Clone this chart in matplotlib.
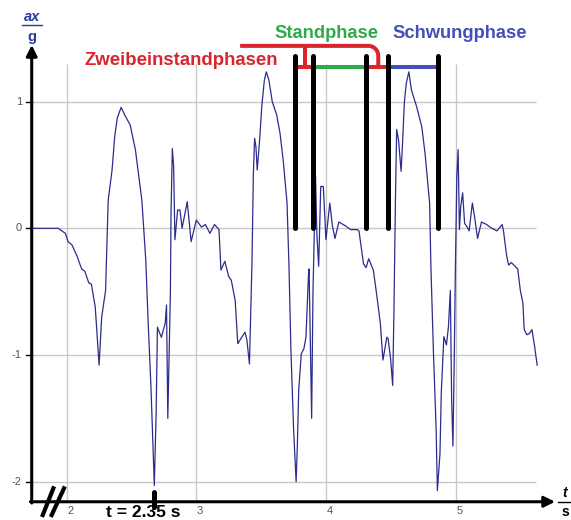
import numpy as np
from matplotlib import pyplot as plt

# acceleration signal ax/g over time t (s)
t_vals = [1.72, 1.935, 1.99, 2.01, 2.04, 2.08, 2.115, 2.14, 2.17, 2.19,
          2.22, 2.25, 2.27, 2.30, 2.32, 2.35, 2.37, 2.39, 2.42, 2.45,
          2.49, 2.53, 2.58, 2.61, 2.63, 2.65, 2.676, 2.69, 2.70, 2.73,
          2.76, 2.77, 2.78, 2.80, 2.805, 2.815, 2.825, 2.835, 2.856, 2.874,
          2.89, 2.93, 2.96, 3.0, 3.04, 3.07, 3.105, 3.14, 3.175, 3.19,
          3.22, 3.25, 3.27, 3.30, 3.32, 3.35, 3.376, 3.39, 3.41, 3.43,
          3.44, 3.45, 3.46, 3.47, 3.49, 3.505, 3.525, 3.54, 3.56, 3.586,
          3.62, 3.646, 3.67, 3.70, 3.715, 3.73, 3.75, 3.77, 3.78, 3.79,
          3.81, 3.83, 3.846, 3.865, 3.87, 3.885, 3.89, 3.90, 3.91, 3.92,
          3.93, 3.944, 3.96, 3.98, 4.0, 4.03, 4.05, 4.07, 4.10, 4.15,
          4.19, 4.24, 4.255, 4.29, 4.31, 4.33, 4.366, 4.39, 4.42, 4.44,
          4.47, 4.48, 4.50, 4.515, 4.525, 4.536, 4.546, 4.56, 4.58, 4.59,
          4.605, 4.62, 4.64, 4.66, 4.70, 4.74, 4.765, 4.80, 4.81, 4.83,
          4.85, 4.86, 4.88, 4.89, 4.91, 4.93, 4.945, 4.96, 4.97, 4.98,
          4.99, 5.0, 5.01, 5.02, 5.03, 5.04, 5.055, 5.07, 5.09, 5.105,
          5.13, 5.15, 5.17, 5.20, 5.24, 5.28, 5.32, 5.36, 5.37, 5.395,
          5.41, 5.43, 5.46, 5.48, 5.50, 5.52, 5.53, 5.55, 5.57, 5.59,
          5.61, 5.63]
ax_vals = [0, 0, -0.04, -0.105, -0.13, -0.22, -0.32, -0.34, -0.43, -0.44,
           -0.62, -1.08, -0.70, -0.49, 0.22, 0.46, 0.72, 0.87, 0.955, 0.89,
           0.815, 0.62, 0.22, -0.25, -0.78, -1.25, -2.03, -1.46, -0.78, -0.86,
           -0.75, -0.605, -1.50, -0.51, 0.12, 0.63, 0.49, -0.09, 0.145, 0.145,
           0.0, 0.21, -0.105, 0.065, 0.01, 0.03, -0.04, 0.03, -0.01, -0.33,
           -0.26, -0.38, -0.41, -0.57, -0.91, -0.86, -0.82, -0.88, -1.07, -0.25,
           0.43, 0.71, 0.645, 0.46, 0.72, 0.96, 1.17, 1.235, 1.17, 1.0,
           0.895, 0.75, 0.54, 0.20, -0.30, -0.96, -1.57, -2.0, -1.70, -1.28,
           -0.99, -0.95, -0.86, -0.38, -0.32, -1.17, -1.50, -0.51, -0.04, 0.41,
           -0.04, -0.30, 0.33, 0.33, -0.09, 0.20, 0.02, -0.08, 0.05, 0.02,
           -0.01, -0.01, -0.02, -0.28, -0.31, -0.24, -0.33, -0.51, -0.75, -1.04,
           -0.86, -0.87, -1.04, -1.24, -0.65, 0.2, 0.78, 0.70, 0.45, 0.645,
           0.99, 1.145, 1.235, 1.09, 0.96, 0.80, 0.59, 0.20, -0.30, -0.99,
           -1.57, -2.07, -1.78, -1.30, -0.855, -0.92, -0.78, -0.49, -1.355, -1.72,
           -1.04, -0.25, 0.41, 0.62, -0.01, 0.17, 0.28, 0.04, 0.01, -0.02,
           0.20, 0.07, -0.08, 0.05, 0.03, 0.0, -0.02, 0.03, -0.02, -0.22,
           -0.29, -0.27, -0.30, -0.32, -0.49, -0.59, -0.80, -0.84, -0.83, -0.80,
           -0.93, -1.08]

x_ticks = [2, 3, 4, 5]
y_ticks = [1, 0, -1, -2]

# gait phase borders (s)
phase_marks = [3.762, 3.898, 4.307, 4.477, 4.867]
marker_t = 2.675
marker_label = 't = 2.35 s'

fnt = 'Liberation Sans'
red = '#d9262e'
green = '#2eaa4a'
blue = '#4450b8'

fig = plt.figure(figsize=(5.71, 5.2), dpi=100)
ax = fig.add_axes([0, 0, 1, 1])
ax.set_xlim(1.4853, 5.891)
ax.set_ylim(-2.302, 1.802)
ax.axis('off')

x0 = 1.73      # y axis position
y0 = -2.158    # x axis position

# grid
ax.hlines(y_ticks, x0, 5.62, color='#c8c8c8', lw=1, zorder=1)
ax.vlines(x_ticks, y0, 1.30, color='#c8c8c8', lw=1, zorder=1)

# the signal
ax.plot(t_vals, ax_vals, color='#2c2c8c', lw=0.9, zorder=3)

# axes with arrows
ax.annotate('', xy=(5.768, y0), xytext=(x0 - 0.01, y0),
            arrowprops=dict(arrowstyle='-|>', lw=2.2, color='black',
                            mutation_scale=16, shrinkA=0, shrinkB=0), zorder=5)
ax.annotate('', xy=(x0, 1.447), xytext=(x0, y0 - 0.01),
            arrowprops=dict(arrowstyle='-|>', lw=2.2, color='black',
                            mutation_scale=16, shrinkA=0, shrinkB=0), zorder=5)

# y ticks
for v in y_ticks:
    ax.plot([1.686, x0], [v, v], color='black', lw=1, zorder=5)
    ax.text(1.655, v, str(v), ha='right', va='center', fontsize=8,
            color='#555555', family=fnt)
for tk in x_ticks:
    ax.text(tk + 0.005, -2.228, str(tk), ha='left', va='center', fontsize=8,
            color='#555555', family=fnt)

# axis break
ax.plot([1.815, 1.897], [-2.263, -2.052], color='black', lw=3, zorder=6)
ax.plot([1.884, 1.979], [-2.263, -2.052], color='black', lw=3, zorder=6)

# time marker
ax.plot([marker_t, marker_t], [-2.08, -2.20], color='black', lw=3.6,
        solid_capstyle='round', zorder=6)
ax.text(2.59, -2.24, marker_label, ha='center', va='center', fontsize=12.5,
        fontweight='bold', family=fnt)

# axis labels
ax.text(x0, 1.668, 'ax', ha='center', va='center', fontsize=10.5, color='#2a3aa0',
        fontweight='bold', style='italic', family=fnt)
ax.plot([1.655, 1.81], [1.605, 1.605], color='#2a3aa0', lw=1)
ax.text(x0, 1.51, 'g', ha='center', va='center', fontsize=10.5, color='#2a3aa0',
        fontweight='bold', family=fnt)
ax.text(5.845, -2.089, 't', ha='center', va='center', fontsize=10,
        fontweight='bold', style='italic', family=fnt)
ax.plot([5.79, 5.9], [-2.16, -2.16], color='black', lw=1)
ax.text(5.845, -2.24, 's', ha='center', va='center', fontsize=10,
        fontweight='bold', family=fnt)

# phase bars
bar_y = 1.275
ax.plot(phase_marks[0:2], [bar_y, bar_y], color=red, lw=2.9, zorder=6)
ax.plot(phase_marks[1:3], [bar_y, bar_y], color=green, lw=2.9, zorder=6)
ax.plot(phase_marks[2:4], [bar_y, bar_y], color=red, lw=2.9, zorder=6)
ax.plot(phase_marks[3:5], [bar_y, bar_y], color=blue, lw=2.9, zorder=6)
ax.vlines(phase_marks, 0, 1.36, color='black', lw=3.6, zorder=7,
          capstyle='round')

# red bracket joining the two double support phases
top = 1.44
left_end = 3.338
right_x = (phase_marks[2] + phase_marks[3]) / 2 + 0.012
mid_x = (phase_marks[0] + phase_marks[1]) / 2 + 0.005
rt, rv = 0.077, 0.079
ang = np.linspace(np.pi / 2, 0, 20)
bx = np.concatenate([[left_end], right_x - rt + rt * np.cos(ang), [right_x]])
by = np.concatenate([[top], top - rv + rv * np.sin(ang), [bar_y]])
ax.plot(bx, by, color=red, lw=2.9, zorder=6, solid_capstyle='butt')
ax.plot([mid_x, mid_x], [top, bar_y], color=red, lw=2.9, zorder=6)

ax.text(2.882, 1.328, 'Zweibeinstandphasen', ha='center', va='center',
        fontsize=13.4, color=red, fontweight='bold', family=fnt)
ax.text(4.008, 1.534, 'Standphase', ha='center', va='center',
        fontsize=13.2, color=green, fontweight='bold', family=fnt)
ax.text(5.035, 1.534, 'Schwungphase', ha='center', va='center',
        fontsize=13.2, color=blue, fontweight='bold', family=fnt)

fig.savefig('out.png', dpi=100)
